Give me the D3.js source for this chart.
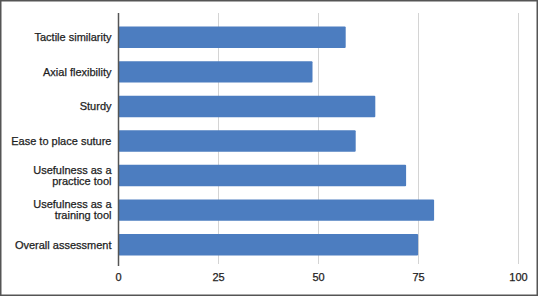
<!DOCTYPE html>
<html>
<head>
<meta charset="utf-8">
<script src="https://d3js.org/d3.v7.min.js"></script>
<style>
  body { margin: 0; background: #fff; }
  text { font-family: "Liberation Sans", Arial, sans-serif; }
</style>
</head>
<body>
<div id="chart"></div>
<script>
  // data
  var categories = [
    "Tactile similarity",
    "Axial flexibility",
    "Sturdy",
    "Ease to place suture",
    "Usefulness as a|practice tool",
    "Usefulness as a|training tool",
    "Overall assessment"
  ];
  var scores = [56.8, 48.5, 64.2, 59.3, 71.9, 78.9, 74.9];
  var xTicks = [0, 25, 50, 75, 100];

  var W = 538, H = 296;
  var svg = d3.select("#chart").append("svg")
    .attr("width", W)
    .attr("height", H);

  // outer frame
  svg.append("rect")
    .attr("x", 0.75).attr("y", 0.75)
    .attr("width", W - 1.5).attr("height", H - 1.5)
    .attr("fill", "#fff")
    .attr("stroke", "#555")
    .attr("stroke-width", 1.5);

  var x = d3.scaleLinear().domain([0, 100]).range([118.5, 518.5]);
  var y = d3.scaleBand().domain(categories).range([20, 262]).paddingInner(0.38).paddingOuter(0.19);

  // gridlines
  svg.append("g")
    .selectAll("line")
    .data(xTicks.slice(1))
    .enter()
    .append("line")
      .attr("x1", function(d) { return x(d); })
      .attr("x2", function(d) { return x(d); })
      .attr("y1", 13)
      .attr("y2", 264)
      .attr("stroke", "#d4d4d4")
      .attr("stroke-width", 1);

  // bars
  svg.append("g")
    .selectAll("rect")
    .data(categories)
    .enter()
    .append("rect")
      .attr("x", x(0))
      .attr("y", function(d) { return y(d); })
      .attr("width", function(d, i) { return x(scores[i]) - x(0); })
      .attr("height", y.bandwidth())
      .attr("rx", 1)
      .attr("fill", "#4c7dc0");

  // y axis line
  svg.append("line")
    .attr("x1", x(0)).attr("x2", x(0))
    .attr("y1", 13).attr("y2", 266)
    .attr("stroke", "#555")
    .attr("stroke-width", 1.5);

  // category labels
  var labels = svg.append("g")
    .selectAll("text")
    .data(categories)
    .enter()
    .append("text")
      .attr("text-anchor", "end")
      .attr("font-size", "11px")
      .attr("fill", "#1e1e1e")
      .attr("stroke", "#1e1e1e")
      .attr("stroke-width", 0.25)
      .attr("y", function(d) { return y(d) + y.bandwidth() / 2; });

  labels.each(function(d) {
    var parts = d.split("|");
    var t = d3.select(this);
    parts.forEach(function(p, k) {
      t.append("tspan")
        .attr("x", 111.5)
        .attr("dy", k === 0 ? (0.35 - (parts.length - 1) * 0.5) + "em" : "1em")
        .text(p);
    });
  });

  // x tick labels
  svg.append("g")
    .selectAll("text")
    .data(xTicks)
    .enter()
    .append("text")
      .attr("x", function(d) { return x(d); })
      .attr("y", 281)
      .attr("text-anchor", "middle")
      .attr("font-size", "11px")
      .attr("fill", "#1e1e1e")
      .attr("stroke", "#1e1e1e")
      .attr("stroke-width", 0.25)
      .text(function(d) { return d; });
</script>
</body>
</html>
